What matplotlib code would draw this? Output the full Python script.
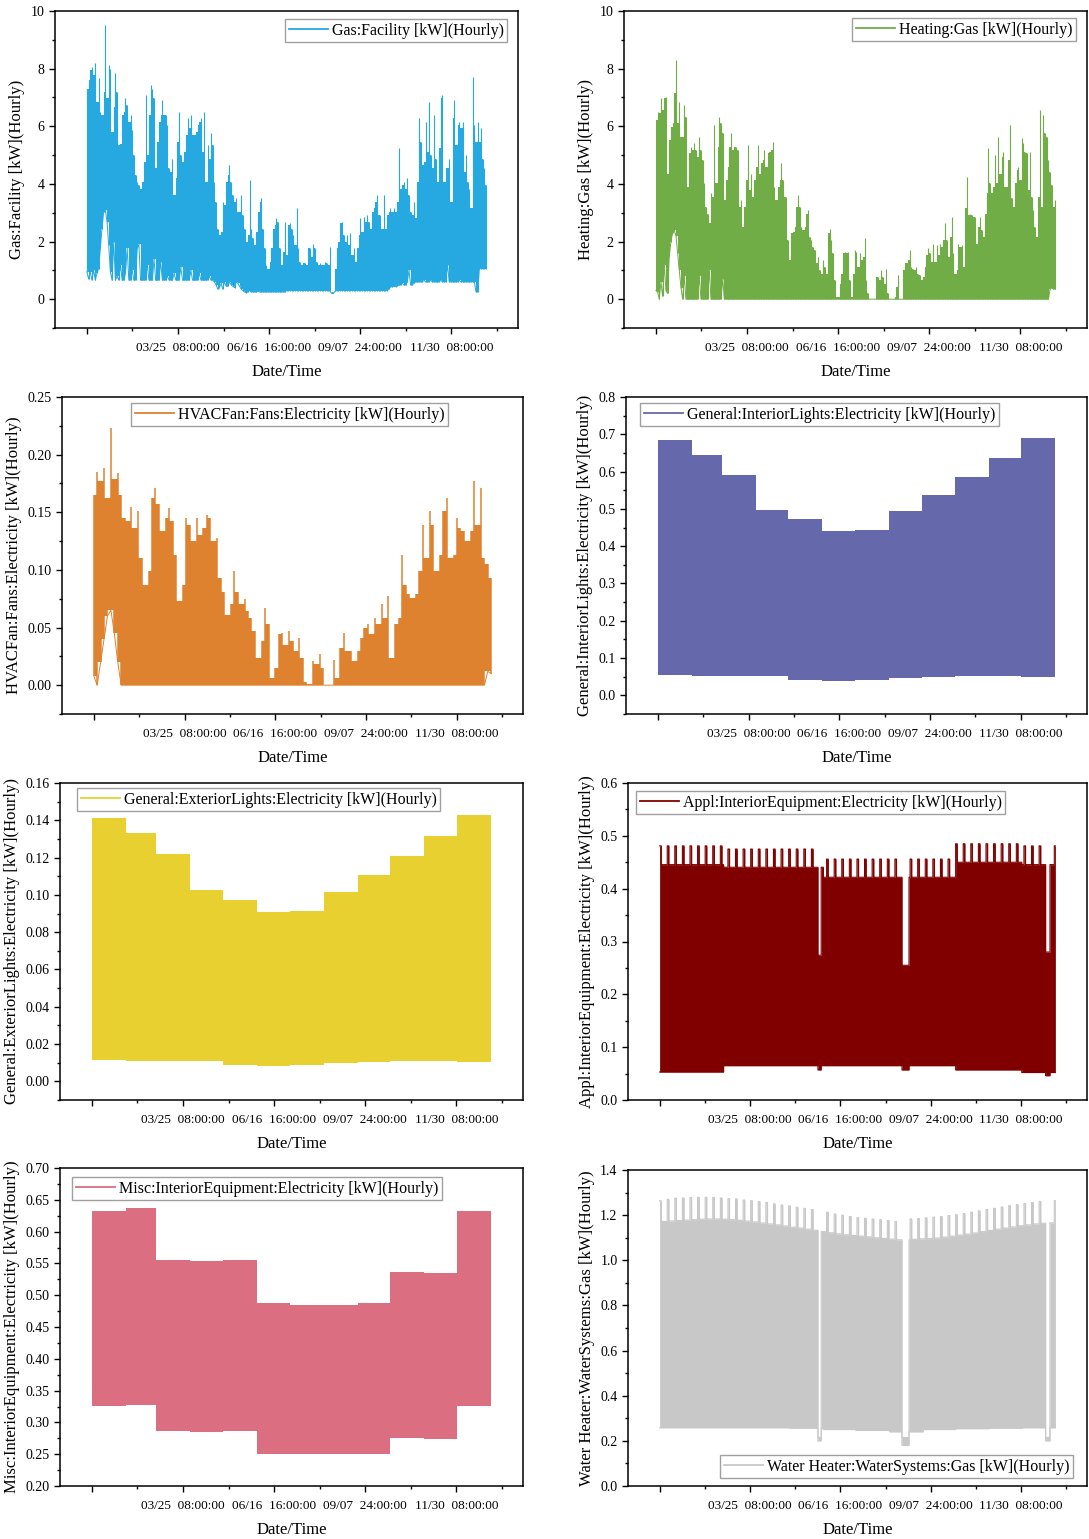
import numpy as np
import matplotlib
matplotlib.use("Agg")
import matplotlib.pyplot as plt
from matplotlib.lines import Line2D
from matplotlib.ticker import MultipleLocator, FixedLocator, FormatStrFormatter

plt.rcParams['font.family'] = ['Liberation Serif', 'DejaVu Serif']

W, H = 1089, 1539

# ---------------- x axis (hours of the year) ----------------
xtick_pos = [0, 2000, 4000, 6000, 8000]
xtick_labels = ['', '03/25  08:00:00', '06/16  16:00:00', '09/07  24:00:00', '11/30  08:00:00']
xminor_pos = [1000, 3000, 5000, 7000, 9000]
month_days = [31, 28, 31, 30, 31, 30, 31, 31, 30, 31, 30, 31]

# ---------------- noisy series (column peaks / troughs) ----------------
gas_hi = [7.31, 7.60, 7.95, 8.07, 7.78, 8.18, 6.85, 7.66, 6.50, 6.39,
          7.20, 9.51, 6.97, 8.12, 8.00, 5.81, 6.68, 7.84, 7.20, 5.35,
          5.40, 6.39, 6.50, 6.97, 6.74, 6.16, 6.39, 5.87, 5.00, 4.31,
          4.07, 3.96, 3.84, 4.07, 4.77, 7.08, 5.00, 6.39, 7.43, 7.31,
          6.97, 4.54, 5.46, 6.16, 6.39, 6.91, 6.39, 6.39, 6.04, 4.54,
          4.42, 4.88, 3.61, 4.19, 5.46, 6.50, 5.00, 4.77, 5.12, 5.69,
          6.27, 5.93, 6.39, 5.69, 5.69, 5.81, 6.04, 6.16, 6.27, 5.12,
          6.50, 4.07, 5.35, 4.88, 5.75, 5.35, 4.07, 3.38, 2.45, 2.22,
          2.34, 3.38, 3.26, 4.07, 4.31, 4.65, 4.07, 3.61, 3.38, 3.50,
          3.03, 3.03, 3.61, 2.92, 2.45, 1.99, 2.22, 4.13, 2.45, 2.11,
          1.88, 2.34, 3.03, 3.38, 3.50, 2.45, 1.76, 1.18, 1.06, 1.30,
          1.76, 2.45, 2.57, 2.80, 2.69, 1.76, 1.18, 1.64, 2.69,
          1.53, 2.57, 2.63, 2.45, 2.22, 1.88, 3.15, 1.76, 1.30, 1.18,
          1.24, 1.24, 1.18, 1.76, 1.76, 1.47, 1.93, 1.76, 1.30, 1.18,
          1.24, 1.18, 1.18, 1.30, 1.24, 1.18, 1.82, 0.25, 0.25, 1.06,
          1.76, 1.99, 2.63, 2.69, 2.22, 1.99, 2.22, 1.88, 2.28, 1.53,
          1.76, 1.30, 1.76, 2.22, 2.80, 2.34, 2.86, 2.69, 2.92, 2.69,
          2.45, 3.03, 3.15, 3.38, 3.61, 2.92, 2.92, 2.45, 3.61, 2.45,
          2.92, 3.03, 3.15, 3.03, 3.15, 3.03, 3.38, 5.23, 3.84, 3.96,
          4.07, 3.84, 4.19, 3.61, 3.03, 2.92, 3.38, 2.80, 4.07, 6.27,
          5.46, 4.65, 4.77, 6.16, 5.12, 6.85, 5.00, 4.54, 6.39, 4.88,
          4.07, 5.23, 6.97, 7.08, 4.07, 4.54, 4.54, 4.88, 3.38, 6.27,
          6.91, 5.35, 6.04, 6.16, 5.93, 6.16, 4.42, 5.00, 4.07, 3.84,
          3.15, 7.72, 6.04, 5.46, 6.16, 5.46, 5.93, 4.88, 4.54, 3.96]
gas_lo = [0.95, 0.70, 0.95, 0.66, 1.00, 0.66, 0.90, 1.06, 1.76, 2.45,
          3.03, 3.09, 2.69, 1.88, 0.95, 0.66, 2.00, 0.66, 0.80, 0.66,
          1.20, 0.66, 0.66, 0.90, 1.76, 0.66, 0.66, 1.00, 0.66, 0.66,
          1.76, 1.90, 0.66, 0.66, 0.66, 0.66, 1.20, 0.66, 0.66, 0.66,
          1.40, 0.66, 0.66, 0.66, 1.30, 0.66, 0.66, 0.66, 0.80, 0.66,
          0.66, 0.66, 0.90, 0.66, 0.66, 0.66, 1.10, 0.66, 0.66, 0.66,
          0.66, 0.66, 1.00, 0.66, 0.66, 0.66, 0.66, 0.90, 0.66, 0.66,
          0.66, 0.66, 0.66, 0.80, 0.66, 0.66, 0.60, 0.50, 0.35, 0.40,
          0.55, 0.35, 0.60, 0.45, 0.45, 0.60, 0.50, 0.45, 0.40, 0.60,
          0.55, 0.45, 0.35, 0.30, 0.25, 0.22, 0.25, 0.30, 0.25, 0.25,
          0.25, 0.25, 0.28, 0.25, 0.25, 0.25, 0.25, 0.25, 0.25, 0.25,
          0.25, 0.25, 0.25, 0.25, 0.25, 0.25, 0.25, 0.25, 0.25,
          0.30, 0.30, 0.30, 0.30, 0.30, 0.30, 0.30, 0.30, 0.30, 0.30,
          0.30, 0.30, 0.30, 0.30, 0.30, 0.30, 0.30, 0.30, 0.30, 0.30,
          0.30, 0.30, 0.30, 0.30, 0.30, 0.30, 0.28, 0.20, 0.20, 0.28,
          0.30, 0.30, 0.30, 0.30, 0.30, 0.30, 0.30, 0.30, 0.30, 0.30,
          0.30, 0.30, 0.30, 0.30, 0.30, 0.30, 0.30, 0.30, 0.30, 0.30,
          0.30, 0.30, 0.30, 0.30, 0.30, 0.30, 0.30, 0.30, 0.30, 0.30,
          0.30, 0.35, 0.43, 0.43, 0.45, 0.43, 0.45, 0.49, 0.49, 0.55,
          0.49, 0.49, 0.60, 1.00, 0.49, 0.49, 0.55, 0.60, 0.60, 0.60,
          0.60, 0.60, 0.65, 0.60, 0.60, 0.60, 0.65, 0.60, 0.60, 0.60,
          0.60, 0.60, 0.65, 0.60, 0.60, 0.60, 1.20, 0.60, 0.60, 0.60,
          0.60, 0.60, 0.60, 0.65, 0.60, 0.60, 0.60, 0.60, 0.60, 0.60,
          0.60, 0.60, 0.60, 0.25, 0.25, 1.06, 1.06, 1.06, 1.06, 1.06]

heat_hi = [6.22, 6.50, 6.45, 6.97, 6.56, 6.97, 7.03, 4.36, 5.52, 5.98,
           6.10, 7.14, 8.30, 6.10, 6.85, 5.64, 5.64, 6.74, 6.33, 3.90,
           5.06, 5.29, 5.17, 5.41, 5.17, 4.94, 5.64, 5.17, 4.83, 4.02,
           3.21, 2.97, 2.63, 3.67, 3.55, 6.04, 4.02, 5.29, 6.33, 6.10,
           5.75, 3.44, 4.13, 4.59, 5.29, 5.75, 5.17, 5.29, 5.29, 5.17,
           3.21, 3.44, 2.51, 3.21, 4.13, 5.35, 3.78, 4.36, 3.55, 4.13,
           4.59, 5.35, 4.36, 4.71, 4.83, 5.17, 4.59, 5.06, 5.12, 5.17,
           5.46, 3.90, 3.44, 3.90, 4.13, 4.71, 4.13, 3.55, 3.55, 2.05,
           1.35, 2.28, 2.34, 2.51, 3.21, 3.61, 3.21, 2.51, 2.40, 2.51,
           2.97, 3.09, 2.16, 2.05, 1.82, 1.70, 1.24, 1.47, 1.01, 0.89,
           1.35, 1.12, 0.89, 2.28, 2.45, 2.05, 1.59, 0.66, 0.08, 0.08,
           0.54, 0.89, 1.59, 1.64, 1.59, 1.64, 0.66, 0.08, 0.89, 1.70,
           1.64, 1.12, 1.59, 1.35, 1.47, 2.11, 0.66, 0.20, 0.00, 0.00,
           0.00, 0.00, 0.78, 0.78, 0.66, 1.01, 0.78, 0.54, 1.06, 0.20,
           0.00, 0.00, 0.00, 0.08, 0.43, 0.83, 0.00, 0.00, 1.01, 1.24,
           1.24, 1.35, 1.70, 1.12, 1.06, 1.01, 1.12, 0.89, 0.83, 0.66,
           0.78, 1.12, 1.53, 1.76, 1.59, 1.30, 1.93, 1.30, 1.88, 1.53,
           1.93, 1.82, 2.05, 2.63, 2.05, 1.47, 2.16, 2.86, 1.59, 0.89,
           1.01, 1.93, 1.82, 1.88, 1.12, 3.15, 4.25, 2.92, 2.97, 2.92,
           2.86, 2.86, 1.93, 2.51, 2.86, 2.40, 2.16, 2.97, 3.67, 5.23,
           4.02, 3.67, 3.90, 5.00, 4.02, 5.64, 4.36, 4.94, 5.12, 3.90,
           3.90, 4.83, 6.04, 3.50, 3.21, 4.02, 4.48, 4.59, 4.13, 5.58,
           5.41, 5.12, 5.06, 3.78, 5.12, 3.55, 3.09, 2.51, 2.16, 3.55,
           6.56, 3.21, 6.39, 5.75, 5.64, 4.83, 4.42, 3.96, 3.21, 3.44]
heat_lo = [0.30, 0.25, 0.00, 0.60, 0.10, 1.20, 0.30, 0.20, 1.50, 2.00,
           2.30, 2.40, 2.20, 1.60, 1.00, 0.40, 0.00, 0.80, 0.00, 0.00,
           0.00, 0.00, 0.00, 0.00, 0.00, 0.00, 0.80, 0.00, 0.00, 0.00,
           0.00, 0.00, 1.00, 0.00, 0.00, 0.00, 0.00, 0.00, 0.00, 0.00,
           0.70, 0.00, 0.00, 0.00, 0.00, 0.00, 0.00, 0.00, 0.00, 0.00,
           0.00, 0.00, 0.00, 0.00, 0.00, 0.00, 0.00, 0.00, 0.00, 0.00,
           0.00, 0.00, 0.00, 0.00, 0.00, 0.00, 0.00, 0.00, 0.00, 0.00,
           0.00, 0.00, 0.00, 0.00, 0.00, 0.00, 0.00, 0.00, 0.00, 0.00,
           0.00, 0.00, 0.00, 0.00, 0.00, 0.00, 0.00, 0.00, 0.00, 0.00,
           0.00, 0.00, 0.00, 0.00, 0.00, 0.00, 0.00, 0.00, 0.00, 0.00,
           0.00, 0.00, 0.00, 0.00, 0.00, 0.00, 0.00, 0.00, 0.00, 0.00,
           0.00, 0.00, 0.00, 0.00, 0.00, 0.00, 0.00, 0.00, 0.00, 0.00,
           0.00, 0.00, 0.00, 0.00, 0.00, 0.00, 0.00, 0.00, 0.00, 0.00,
           0.00, 0.00, 0.00, 0.00, 0.00, 0.00, 0.00, 0.00, 0.00, 0.00,
           0.00, 0.00, 0.00, 0.00, 0.00, 0.00, 0.00, 0.00, 0.00, 0.00,
           0.00, 0.00, 0.00, 0.00, 0.00, 0.00, 0.00, 0.00, 0.00, 0.00,
           0.00, 0.00, 0.00, 0.00, 0.00, 0.00, 0.00, 0.00, 0.00, 0.00,
           0.00, 0.00, 0.00, 0.00, 0.00, 0.00, 0.00, 0.00, 0.00, 0.00,
           0.00, 0.00, 0.00, 0.00, 0.00, 0.00, 0.00, 0.00, 0.00, 0.00,
           0.00, 0.00, 0.00, 0.00, 0.00, 0.00, 0.00, 0.00, 0.00, 0.00,
           0.00, 0.00, 0.00, 0.00, 0.00, 0.00, 0.00, 0.00, 0.00, 0.00,
           0.00, 0.00, 0.00, 0.00, 0.00, 0.00, 0.00, 0.00, 0.00, 0.00,
           0.00, 0.00, 0.00, 0.00, 0.00, 0.00, 0.00, 0.00, 0.00, 0.00,
           0.00, 0.00, 0.00, 0.00, 0.00, 0.00, 0.35, 0.40, 0.35, 0.35]

fan_hi = [0.165, 0.185, 0.177, 0.188, 0.162, 0.223, 0.179, 0.184, 0.165, 0.145,
          0.142, 0.155, 0.136, 0.151, 0.110, 0.087, 0.099, 0.162, 0.171, 0.157,
          0.134, 0.145, 0.154, 0.142, 0.113, 0.073, 0.087, 0.145, 0.139, 0.125,
          0.145, 0.130, 0.136, 0.148, 0.145, 0.125, 0.128, 0.093, 0.081, 0.061,
          0.070, 0.099, 0.081, 0.070, 0.075, 0.064, 0.058, 0.047, 0.024, 0.038,
          0.067, 0.053, 0.006, 0.015, 0.044, 0.045, 0.035, 0.047, 0.038, 0.030,
          0.041, 0.024, 0.003, 0.001, 0.021, 0.018, 0.027, 0.015, 0.000, 0.000,
          0.022, 0.006, 0.032, 0.045, 0.030, 0.030, 0.021, 0.030, 0.041, 0.050,
          0.053, 0.044, 0.058, 0.053, 0.070, 0.058, 0.077, 0.024, 0.053, 0.058,
          0.113, 0.087, 0.079, 0.076, 0.079, 0.099, 0.139, 0.110, 0.151, 0.139,
          0.099, 0.113, 0.151, 0.162, 0.110, 0.113, 0.145, 0.136, 0.134, 0.125,
          0.134, 0.177, 0.139, 0.171, 0.110, 0.105, 0.093]
fan_lo = [0.008, 0.000, 0.020, 0.040, 0.060, 0.065, 0.045, 0.020, 0.000, 0.000,
          0.000, 0.000, 0.000, 0.000, 0.000, 0.000, 0.000, 0.000, 0.000, 0.000,
          0.000, 0.000, 0.000, 0.000, 0.000, 0.000, 0.000, 0.000, 0.000, 0.000,
          0.000, 0.000, 0.000, 0.000, 0.000, 0.000, 0.000, 0.000, 0.000, 0.000,
          0.000, 0.000, 0.000, 0.000, 0.000, 0.000, 0.000, 0.000, 0.000, 0.000,
          0.000, 0.000, 0.000, 0.000, 0.000, 0.000, 0.000, 0.000, 0.000, 0.000,
          0.000, 0.000, 0.000, 0.000, 0.000, 0.000, 0.000, 0.000, 0.000, 0.000,
          0.000, 0.000, 0.000, 0.000, 0.000, 0.000, 0.000, 0.000, 0.000, 0.000,
          0.000, 0.000, 0.000, 0.000, 0.000, 0.000, 0.000, 0.000, 0.000, 0.000,
          0.000, 0.000, 0.000, 0.000, 0.000, 0.000, 0.000, 0.000, 0.000, 0.000,
          0.000, 0.000, 0.000, 0.000, 0.000, 0.000, 0.000, 0.000, 0.000, 0.000,
          0.000, 0.000, 0.000, 0.000, 0.000, 0.012, 0.010]

# ---------------- monthly envelopes ----------------
il_hi = [0.684, 0.644, 0.591, 0.496, 0.472, 0.440, 0.443, 0.493, 0.536, 0.586, 0.637, 0.690]
il_lo = [0.054, 0.051, 0.051, 0.051, 0.041, 0.038, 0.042, 0.046, 0.049, 0.051, 0.051, 0.049]
el_hi = [0.1412, 0.1334, 0.1219, 0.1024, 0.0974, 0.0908, 0.0914, 0.1017, 0.1107, 0.1210, 0.1316, 0.1427]
el_lo = [0.0113, 0.0107, 0.0107, 0.0107, 0.0088, 0.0082, 0.0089, 0.0098, 0.0104, 0.0107, 0.0107, 0.0104]
misc_hi = [0.633, 0.637, 0.555, 0.554, 0.555, 0.487, 0.485, 0.485, 0.487, 0.536, 0.535, 0.633]
misc_lo = [0.326, 0.328, 0.286, 0.285, 0.286, 0.251, 0.250, 0.250, 0.251, 0.275, 0.274, 0.326]

appl_base = [0.4455, 0.4455, 0.4405, 0.4405, 0.4405, 0.4216, 0.4216, 0.4216, 0.4216, 0.450, 0.450, 0.4455]
appl_peak = [0.481, 0.481, 0.475, 0.475, 0.475, 0.456, 0.456, 0.456, 0.456, 0.485, 0.485, 0.481]
appl_low = [0.053, 0.053, 0.065, 0.065, 0.065, 0.065, 0.065, 0.065, 0.065, 0.057, 0.057, 0.052]

holidays = [(146.0, 149.0), (223.5, 230.0), (356.0, 360.0)]   # day ranges
appl_hol_top = [0.274, 0.255, 0.280]
appl_hol_low = [0.057, 0.057, 0.046]

# water heater: weekly band top, weekly peaks, monthly troughs
wh_base = [1.172, 1.174, 1.176, 1.178, 1.180, 1.182, 1.183, 1.183, 1.182, 1.180,
           1.177, 1.174, 1.170, 1.165, 1.161, 1.157, 1.152, 1.147, 1.143, 1.138,
           1.133, 1.127, 1.122, 1.117, 1.113, 1.110, 1.107, 1.104, 1.100, 1.097,
           1.094, 1.091, 1.090, 1.093, 1.095, 1.096, 1.099, 1.103, 1.107, 1.112,
           1.116, 1.121, 1.127, 1.132, 1.138, 1.143, 1.148, 1.153, 1.157, 1.161,
           1.164, 1.166, 1.169]
wh_peak = [1.264, 1.270, 1.275, 1.276, 1.278, 1.279, 1.279, 1.278, 1.276, 1.273,
           1.272, 1.267, 1.264, 1.260, 1.256, 1.250, 1.245, 1.241, 1.235, 1.230,
           1.225, np.nan, 1.213, 1.205, 1.200, 1.194, 1.189, 1.186, 1.183, 1.180,
           1.176, 1.172, np.nan, 1.183, 1.185, 1.188, 1.191, 1.194, 1.198, 1.202,
           1.207, 1.213, 1.219, 1.225, 1.230, 1.236, 1.242, 1.247, 1.251, 1.256,
           1.260, np.nan, 1.264]
wh_low = [0.258, 0.258, 0.258, 0.258, 0.256, 0.250, 0.246, 0.240, 0.250, 0.254, 0.256, 0.258]
wh_hol_top = [0.215, 0.215, 0.215]
wh_hol_low = [0.200, 0.180, 0.200]

# ---------------- styling ----------------
C_GAS, C_HEAT, C_FAN = '#25A9E0', '#70AD47', '#DE8230'
C_IL, C_EL, C_APPL, C_MISC, C_WH = '#6569AC', '#E8D030', '#800000', '#DB6E80', '#C8C8C8'

fig = plt.figure(figsize=(W / 100, H / 100), dpi=100)


def make_ax(l, r, t, b):
    return fig.add_axes([l / W, 1 - b / H, (r - l) / W, (b - t) / H])


def style(ax, ylim, ymaj, ymin, fmt, ylabel):
    ax.set_xlim(-700, 9460)
    ax.set_ylim(*ylim)
    ax.xaxis.set_major_locator(FixedLocator(xtick_pos))
    ax.xaxis.set_minor_locator(FixedLocator(xminor_pos))
    ax.set_xticklabels(xtick_labels)
    ax.yaxis.set_major_locator(MultipleLocator(ymaj))
    ax.yaxis.set_minor_locator(MultipleLocator(ymin))
    ax.yaxis.set_major_formatter(FormatStrFormatter(fmt))
    ax.tick_params(which='both', direction='out', top=False, right=False, width=1.0)
    ax.tick_params(which='major', length=4)
    ax.tick_params(which='minor', length=2.5)
    ax.tick_params(axis='x', which='major', pad=6, labelsize=9.5)
    ax.tick_params(axis='y', which='major', labelsize=10)
    for s in ax.spines.values():
        s.set_linewidth(1.1)
    ax.set_xlabel('Date/Time', fontsize=12, labelpad=7)
    ax.set_ylabel(ylabel, fontsize=12)


def legend(ax, color, label, x, y):
    h = [Line2D([], [], color=color, lw=1.3)]
    ax.legend(h, [label], loc='upper left', bbox_to_anchor=(x / W, 1 - y / H),
              bbox_transform=fig.transFigure, fontsize=11.5, frameon=True, fancybox=False,
              edgecolor='#A0A0A0', framealpha=1, borderpad=0.22, borderaxespad=0,
              handlelength=2.5, handletextpad=0.2)


def noisy(ax, hi, lo, color, lw=0.8):
    """Dense hourly trace drawn as a solid body with the peaks as thin spikes."""
    hi = np.asarray(hi, float)
    lo = np.asarray(lo, float)
    x = np.linspace(0, 8760, len(hi))
    body_top = np.append(np.minimum(hi[:-1], hi[1:]), hi[-1])
    body_bot = np.append(np.maximum(lo[:-1], lo[1:]), lo[-1])
    body_top = np.maximum(body_top, body_bot)
    ax.fill_between(x, body_bot, body_top, step='post', color=color, lw=0)
    ax.vlines(x, lo, hi, color=color, lw=lw)
    ax.plot(x, lo, color=color, lw=0.7)


month_edges = np.cumsum([0] + month_days) * 24


def monthly(ax, hi, lo, color):
    ax.fill_between(month_edges, lo + [lo[-1]], hi + [hi[-1]], step='post', color=color, lw=0)


hours = np.arange(8761)
month_of_hour = np.minimum(np.searchsorted(month_edges, hours, side='right') - 1, 11)


def weekly_teeth(top, peaks, tooth_w=36):
    for k, p in enumerate(peaks):
        if np.isnan(p):
            continue
        s = 7 * k * 24
        top[s:s + tooth_w] = p
    return top


def banded(ax, top, bot, color):
    ax.fill_between(hours, bot, top, step='post', color=color, lw=0)
    ax.plot(hours, top, drawstyle='steps-post', color=color, lw=0.8)
    ax.plot(hours, bot, drawstyle='steps-post', color=color, lw=0.8)


# ---------- Panel 1: Gas facility ----------
ax = make_ax(55, 518, 11, 328)
noisy(ax, gas_hi, gas_lo, C_GAS)
style(ax, (-1, 10), 2, 1, '%d', 'Gas:Facility [kW](Hourly)')
legend(ax, C_GAS, 'Gas:Facility [kW](Hourly)', 285, 19)

# ---------- Panel 2: Heating gas ----------
ax = make_ax(624, 1087, 11, 328)
noisy(ax, heat_hi, heat_lo, C_HEAT)
style(ax, (-1, 10), 2, 1, '%d', 'Heating:Gas [kW](Hourly)')
legend(ax, C_HEAT, 'Heating:Gas [kW](Hourly)', 852, 18)

# ---------- Panel 3: HVAC fans ----------
ax = make_ax(62, 523, 397, 714)
noisy(ax, fan_hi, fan_lo, C_FAN, lw=1.1)
style(ax, (-0.025, 0.25), 0.05, 0.025, '%.2f', 'HVACFan:Fans:Electricity [kW](Hourly)')
legend(ax, C_FAN, 'HVACFan:Fans:Electricity [kW](Hourly)', 131, 403)

# ---------- Panel 4: Interior lights ----------
ax = make_ax(626, 1087, 397, 714)
monthly(ax, il_hi, il_lo, C_IL)
style(ax, (-0.05, 0.8), 0.1, 0.05, '%.1f', 'General:InteriorLights:Electricity [kW](Hourly)')
legend(ax, C_IL, 'General:InteriorLights:Electricity [kW](Hourly)', 640, 403)

# ---------- Panel 5: Exterior lights ----------
ax = make_ax(60, 523, 783, 1100)
monthly(ax, el_hi, el_lo, C_EL)
style(ax, (-0.01, 0.16), 0.02, 0.01, '%.2f', 'General:ExteriorLights:Electricity [kW](Hourly)')
legend(ax, C_EL, 'General:ExteriorLights:Electricity [kW](Hourly)', 77, 788)

# ---------- Panel 6: Appliances ----------
ax = make_ax(628, 1087, 783, 1100)
top = np.array(appl_base)[month_of_hour]
bot = np.array(appl_low)[month_of_hour]
peaks_w = [appl_peak[month_of_hour[7 * k * 24]] for k in range(53)]
top = weekly_teeth(top, peaks_w)
for (d0, d1), ht, lw_ in zip(holidays, appl_hol_top, appl_hol_low):
    m = (hours >= d0 * 24) & (hours < d1 * 24)
    top[m] = ht
    bot[m] = lw_
banded(ax, top, bot, C_APPL)
style(ax, (0, 0.6), 0.1, 0.05, '%.1f', 'Appl:InteriorEquipment:Electricity [kW](Hourly)')
legend(ax, C_APPL, 'Appl:InteriorEquipment:Electricity [kW](Hourly)', 636, 791)

# ---------- Panel 7: Misc ----------
ax = make_ax(60, 523, 1168, 1486)
monthly(ax, misc_hi, misc_lo, C_MISC)
style(ax, (0.2, 0.7), 0.05, 0.025, '%.2f', 'Misc:InteriorEquipment:Electricity [kW](Hourly)')
legend(ax, C_MISC, 'Misc:InteriorEquipment:Electricity [kW](Hourly)', 72, 1177)

# ---------- Panel 8: Water heater ----------
ax = make_ax(628, 1087, 1170, 1486)
week_of_hour = np.minimum(hours // (7 * 24), 52)
top = np.array(wh_base)[week_of_hour]
bot = np.array(wh_low)[month_of_hour]
top = weekly_teeth(top, wh_peak)
for (d0, d1), ht, lw_ in zip(holidays, wh_hol_top, wh_hol_low):
    m = (hours >= d0 * 24) & (hours < d1 * 24)
    top[m] = ht
    bot[m] = lw_
banded(ax, top, bot, C_WH)
style(ax, (0, 1.4), 0.2, 0.1, '%.1f', 'Water Heater:WaterSystems:Gas [kW](Hourly)')
legend(ax, C_WH, 'Water Heater:WaterSystems:Gas [kW](Hourly)', 720, 1455)

fig.savefig('out.png', dpi=100)
